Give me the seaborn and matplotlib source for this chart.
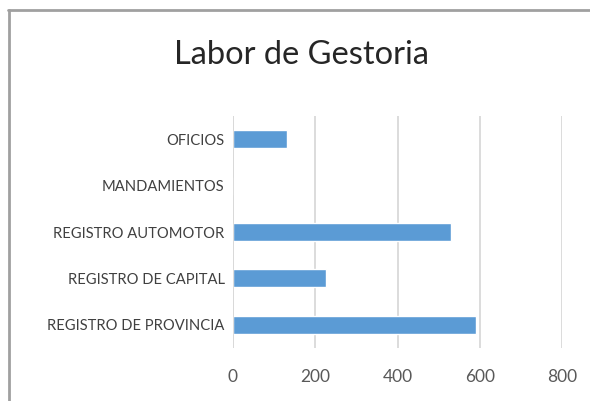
import pandas as pd
import matplotlib.pyplot as plt
import seaborn as sns
from matplotlib.lines import Line2D

categorias = ["OFICIOS", "MANDAMIENTOS", "REGISTRO AUTOMOTOR",
              "REGISTRO DE CAPITAL", "REGISTRO DE PROVINCIA"]
cantidades = [131, 0, 530, 226, 591]
ticks_x = [0, 200, 400, 600, 800]

df = pd.DataFrame({"categoria": categorias, "cantidad": cantidades})

sns.set_theme(style="white")
plt.rcParams["font.family"] = ["Lato", "DejaVu Sans"]

fig = plt.figure(figsize=(5.9, 4.01), dpi=100)
ax = fig.add_axes([233 / 590, 53 / 401, (562 - 233) / 590, 232 / 401])

sns.barplot(data=df, x="cantidad", y="categoria", orient="h", color="#5B9BD5",
            saturation=1, width=0.39, ax=ax, zorder=2)

ax.set_xlim(0, 800)
ax.set_ylim(4.5, -0.5)
ax.set_xticks(ticks_x)
ax.set_xticklabels([str(t) for t in ticks_x])
ax.grid(axis="x", color="#D9D9D9", linewidth=1.3, zorder=0)
ax.axvline(0, color="#D9D9D9", linewidth=1.3, zorder=3)
ax.set_xlabel("")
ax.set_ylabel("")
for s in ax.spines.values():
    s.set_visible(False)
ax.tick_params(axis="x", length=0, pad=15, labelsize=12.5, labelcolor="#595959")
ax.tick_params(axis="y", length=0, pad=6, labelsize=10.6, labelcolor="#404040")

fig.text(302 / 590, 1 - 55 / 401, "Labor de Gestoria", ha="center", va="center",
         fontsize=23.5, color="#262626")

# marco gris del grafico
fig.lines.append(Line2D([8 / 590, 1], [1 - 10 / 401, 1 - 10 / 401],
                        transform=fig.transFigure, color="#A0A0A0", linewidth=2))
fig.lines.append(Line2D([9 / 590, 9 / 590], [0, 1 - 10 / 401],
                        transform=fig.transFigure, color="#A0A0A0", linewidth=2))

fig.savefig("out.png", dpi=100)
